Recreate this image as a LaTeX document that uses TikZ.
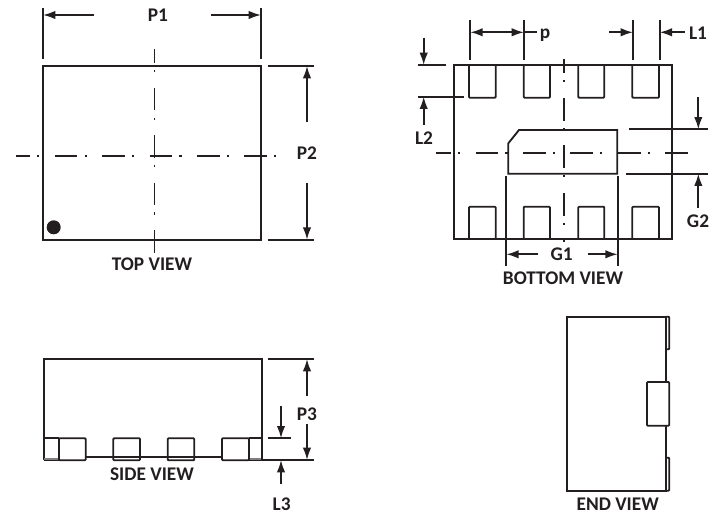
\documentclass[tikz,border=0pt]{standalone}
\usepackage{fontspec}
\setmainfont{Carlito}
\usetikzlibrary{arrows.meta}
\definecolor{inkblack}{HTML}{231F20}
\begin{document}
\begin{tikzpicture}[x=0.02cm,y=-0.02cm,
        line width=1.05pt,inkblack,
        >={Latex[length=7pt,width=4.8pt]},
        every node/.style={font=\fontsize{11}{12}\selectfont\bfseries,text=inkblack,inner sep=0pt},
        dim/.style={line width=1pt},
        centerline/.style={line width=0.95pt,dash pattern=on 13pt off 4pt on 1.2pt off 8.8pt},
        pad/.style={rounded corners=0.5pt}]
    \useasboundingbox (0,0) rectangle (722,513);

    % top view
    \draw (43,66) rectangle (261,240);
    \fill (53.7,227.3) circle (7);
    \draw[centerline,dash phase=5pt] (154.5,49) -- (154.5,254);
    \draw[centerline,dash phase=5pt] (16,156) -- (278,156);
    \node (topview) at (152,264) {TOP VIEW};

    % P1
    \node (P1) at (158,15) {P1};
    \draw[dim] (43,8) -- (43,59);
    \draw[dim] (261,8) -- (261,59);
    \draw[dim,->] (94,15) -- (43,15);
    \draw[dim,->] (211,15) -- (261,15);

    % P2
    \node (P2) at (307,152.7) {P2};
    \draw[dim] (267.7,66) -- (313.7,66);
    \draw[dim] (267.7,239.7) -- (313.7,239.7);
    \draw[dim,->] (307,122.3) -- (307,66);
    \draw[dim,->] (307,183.3) -- (307,239.7);

    % bottom view
    \draw (453.7,65) rectangle (671.7,239.3);
    \draw[pad] (469,65) -- (469,97.7) -- (495.7,97.7) -- (495.7,65);
    \draw[pad] (523.7,65) -- (523.7,97.7) -- (550,97.7) -- (550,65);
    \draw[pad] (578.3,65) -- (578.3,97.7) -- (604.3,97.7) -- (604.3,65);
    \draw[pad] (632.3,65) -- (632.3,97.7) -- (659,97.7) -- (659,65);
    \draw[pad] (469,239.3) -- (469,206.7) -- (495.7,206.7) -- (495.7,239.3);
    \draw[pad] (523.7,239.3) -- (523.7,206.7) -- (550,206.7) -- (550,239.3);
    \draw[pad] (578.3,239.3) -- (578.3,206.7) -- (604.3,206.7) -- (604.3,239.3);
    \draw[pad] (632.3,239.3) -- (632.3,206.7) -- (659,206.7) -- (659,239.3);
    \draw (508.3,143.3) -- (519,130) -- (617.3,130) -- (617.3,173.7) -- (508.3,173.7) -- cycle;
    \draw[centerline,dash phase=5pt] (563.7,59.3) -- (563.7,241.7);
    \draw[centerline,dash phase=4.5pt] (436,153) -- (688,153);
    \node (bottomview) at (563,278) {BOTTOM VIEW};

    % p
    \node (p) at (545,35) {p};
    \draw[dim] (470.3,20) -- (470.3,60);
    \draw[dim] (524,20) -- (524,60);
    \draw[dim,<->] (470.3,32.3) -- (524,32.3);
    \draw[dim] (524,32.3) -- (536.7,32.3);

    % L1
    \node (L1) at (698,33) {L1};
    \draw[dim] (633,20) -- (633,60);
    \draw[dim] (659.7,20) -- (659.7,60);
    \draw[dim,->] (609.3,32.3) -- (633,32.3);
    \draw[dim,->] (685,32.3) -- (659.7,32.3);

    % L2
    \node (L2) at (424,138) {L2};
    \draw[dim] (418,65) -- (446,65);
    \draw[dim] (418,96.7) -- (464.3,96.7);
    \draw[dim,->] (423.7,37.7) -- (423.7,65);
    \draw[dim,->] (423.7,125) -- (423.7,96.7);

    % G2
    \node (G2) at (698,221) {G2};
    \draw[dim] (629,129.3) -- (707.7,129.3);
    \draw[dim] (626,173.7) -- (707.7,173.7);
    \draw[dim,->] (698.3,97.3) -- (698.3,129.3);
    \draw[dim,->] (698.3,208) -- (698.3,173.7);

    % G1
    \node (G1) at (561.7,254) {G1};
    \draw[dim] (506.3,176) -- (506.3,266);
    \draw[dim] (617.7,176) -- (617.7,266);
    \draw[dim,->] (538,254.3) -- (506.3,254.3);
    \draw[dim,->] (587.7,254.3) -- (617.7,254.3);

    % side view
    \draw (43.7,460.3) -- (43.7,359) -- (261.7,359) -- (261.7,460.3);
    \draw (43.7,460.3) -- (59,460.3);
    \draw (249,460.3) -- (261.7,460.3);
    \draw (85.7,457.3) -- (222,457.3);
    \fill[gray] (44.3,457.5) rectangle (59,459.8);
    \fill[gray] (249,457.5) rectangle (261.2,459.8);
    \draw (43.7,438.3) -- (59,438.3);
    \draw (249,438.3) -- (261.7,438.3);
    \draw[pad] (59,438.3) rectangle (85.7,460.3);
    \draw[pad] (113.3,438.3) rectangle (140,460.3);
    \draw[pad] (167.7,438.3) rectangle (194.3,460.3);
    \draw[pad] (222,438.3) rectangle (249,460.3);
    \node (sideview) at (152,474) {SIDE VIEW};

    % P3
    \node (P3) at (307,414.3) {P3};
    \draw[dim] (267.7,359) -- (313.7,359);
    \draw[dim] (261.7,460) -- (313.7,460);
    \draw[dim,->] (307,396) -- (307,359);
    \draw[dim,->] (307,424) -- (307,460);

    % L3
    \node (L3) at (281.7,504) {L3};
    \draw[dim] (267.7,438.3) -- (290.7,438.3);
    \draw[dim,->] (281,406) -- (281,438.3);
    \draw[dim,->] (281,484) -- (281,460);

    % end view
    \draw (567.3,316.7) rectangle (666,490.7);
    \draw[pad] (666,316.7) -- (669.3,316.7) -- (669.3,349.3) -- (666,349.3);
    \draw[pad] (666,457.7) -- (669.3,457.7) -- (669.3,490.7) -- (666,490.7);
    \draw[pad,fill=white] (647,382) rectangle (669.3,425.7);
    \node (endview) at (617.7,504.3) {END VIEW};
\end{tikzpicture}
\end{document}
